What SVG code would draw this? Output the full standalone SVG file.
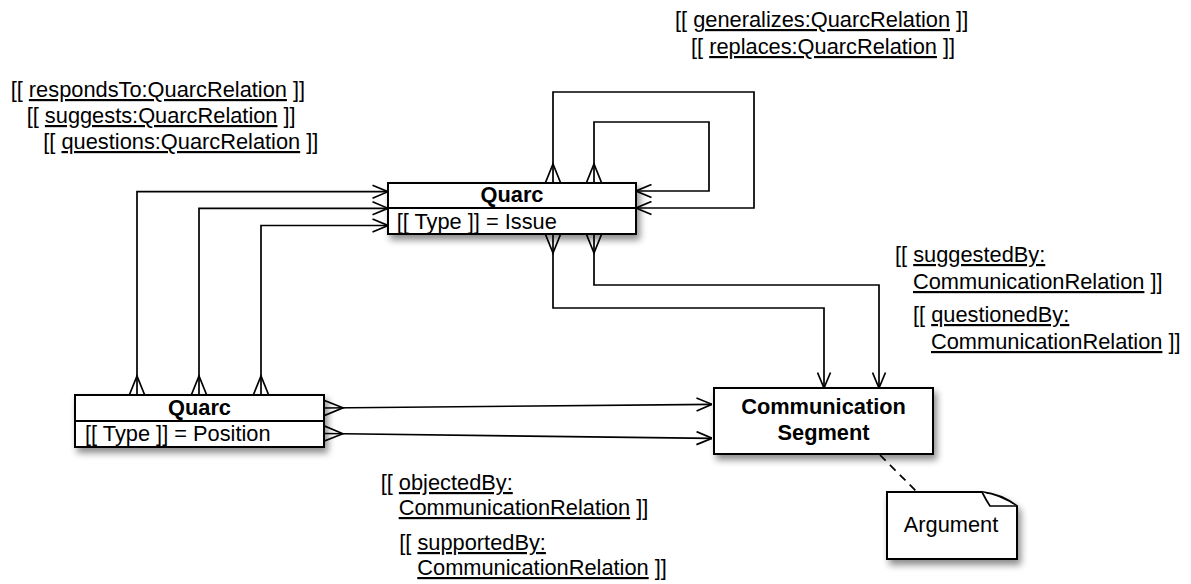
<svg xmlns="http://www.w3.org/2000/svg" width="1191" height="584" viewBox="0 0 1191 584">
  <style>
    text { font-family: "Liberation Sans", Arial, Helvetica, sans-serif; font-size: 21.8px; fill: #000; }
    .bold { font-weight: bold; }
    .mid { text-anchor: middle; }
    .u { text-decoration: underline; }
    .box { fill: #fff; stroke: #000; stroke-width: 2; }
    .div { stroke: #000; stroke-width: 2; fill: none; }
    .conn { fill: none; stroke: #000; stroke-width: 1.7; }
    .dash { stroke-dasharray: 8 6; }
  </style>
  <defs>
    <filter id="shadow" x="-20%" y="-30%" width="140%" height="170%">
      <feDropShadow dx="3" dy="5" stdDeviation="3.5" flood-color="#000" flood-opacity="0.45"/>
    </filter>
    <!-- open arrowhead at the target end -->
    <marker id="arrow" viewBox="0 0 16 15" refX="16" refY="7.5" markerWidth="16" markerHeight="15" markerUnits="userSpaceOnUse" orient="auto">
      <path d="M0.5,1 L16,7.5 L0.5,14" fill="none" stroke="#000" stroke-width="1.7"/>
    </marker>
    <!-- crow's foot (many) at the source end -->
    <marker id="many" viewBox="0 -9 21 18" refX="0" refY="0" markerWidth="21" markerHeight="18" markerUnits="userSpaceOnUse" orient="auto">
      <path d="M0,-7.7 L19,0 L0,7.7" fill="none" stroke="#000" stroke-width="1.7"/>
    </marker>
  </defs>

  <rect width="1191" height="584" fill="#fff"/>

  <!-- connectors -->
  <g id="connectors">
    <path class="conn" d="M137,395 V191.7 H388" marker-start="url(#many)" marker-end="url(#arrow)"/>
    <path class="conn" d="M199,395 V208.3 H388" marker-start="url(#many)" marker-end="url(#arrow)"/>
    <path class="conn" d="M261,395 V225.5 H388" marker-start="url(#many)" marker-end="url(#arrow)"/>
    <path class="conn" d="M553,183 V92 H754 V208 H636" marker-start="url(#many)" marker-end="url(#arrow)"/>
    <path class="conn" d="M594,183 V122 H709 V191 H636" marker-start="url(#many)" marker-end="url(#arrow)"/>
    <path class="conn" d="M553,234 V308 H824 V388" marker-start="url(#many)" marker-end="url(#arrow)"/>
    <path class="conn" d="M594,234 V285 H879 V388" marker-start="url(#many)" marker-end="url(#arrow)"/>
    <path class="conn" d="M324,408 L712,404.3" marker-start="url(#many)" marker-end="url(#arrow)"/>
    <path class="conn" d="M324,433.5 L712,438.3" marker-start="url(#many)" marker-end="url(#arrow)"/>
    <path class="conn dash" d="M880,455 L917,492"/>
  </g>

  <!-- relation labels -->
  <g id="labels">
    <text x="675" y="27">[[ <tspan class="u">generalizes:QuarcRelation</tspan> ]]</text>
    <text x="691" y="54">[[ <tspan class="u">replaces:QuarcRelation</tspan> ]]</text>

    <text x="10.7" y="97">[[ <tspan class="u">respondsTo:QuarcRelation</tspan> ]]</text>
    <text x="26.7" y="123">[[ <tspan class="u">suggests:QuarcRelation</tspan> ]]</text>
    <text x="43.3" y="149">[[ <tspan class="u">questions:QuarcRelation</tspan> ]]</text>

    <text x="895" y="262">[[ <tspan class="u">suggestedBy:</tspan></text>
    <text x="913" y="289"><tspan class="u">CommunicationRelation</tspan> ]]</text>
    <text x="913" y="322">[[ <tspan class="u">questionedBy:</tspan></text>
    <text x="931" y="349"><tspan class="u">CommunicationRelation</tspan> ]]</text>

    <text x="380.7" y="490">[[ <tspan class="u">objectedBy:</tspan></text>
    <text x="398.7" y="515"><tspan class="u">CommunicationRelation</tspan> ]]</text>
    <text x="399.3" y="550">[[ <tspan class="u">supportedBy:</tspan></text>
    <text x="417.3" y="575"><tspan class="u">CommunicationRelation</tspan> ]]</text>
  </g>

  <!-- Quarc : Issue -->
  <g id="quarc-issue">
    <rect class="box" x="388" y="183" width="248" height="51" filter="url(#shadow)"/>
    <line class="div" x1="388" y1="208" x2="636" y2="208"/>
    <text class="bold mid" x="512" y="201.5">Quarc</text>
    <text x="396.7" y="228.5">[[ Type ]] = Issue</text>
  </g>

  <!-- Quarc : Position -->
  <g id="quarc-position">
    <rect class="box" x="75" y="395" width="249" height="52" filter="url(#shadow)"/>
    <line class="div" x1="75" y1="421" x2="324" y2="421"/>
    <text class="bold mid" x="199.5" y="415">Quarc</text>
    <text x="85" y="441">[[ Type ]] = Position</text>
  </g>

  <!-- Communication Segment -->
  <g id="communication-segment">
    <rect class="box" x="714" y="388" width="219" height="66" filter="url(#shadow)"/>
    <text class="bold mid" x="823.5" y="414">Communication</text>
    <text class="bold mid" x="823.5" y="440">Segment</text>
  </g>

  <!-- Argument note -->
  <g id="argument">
    <path class="box" d="M887,492 H982 Q1001,494 1017,506 V559 H887 Z" filter="url(#shadow)"/>
    <path d="M982,492 Q986,500 990,506 H1017" fill="#fff" stroke="#000" stroke-width="1.7"/>
    <text class="mid" x="951" y="532">Argument</text>
  </g>
</svg>
